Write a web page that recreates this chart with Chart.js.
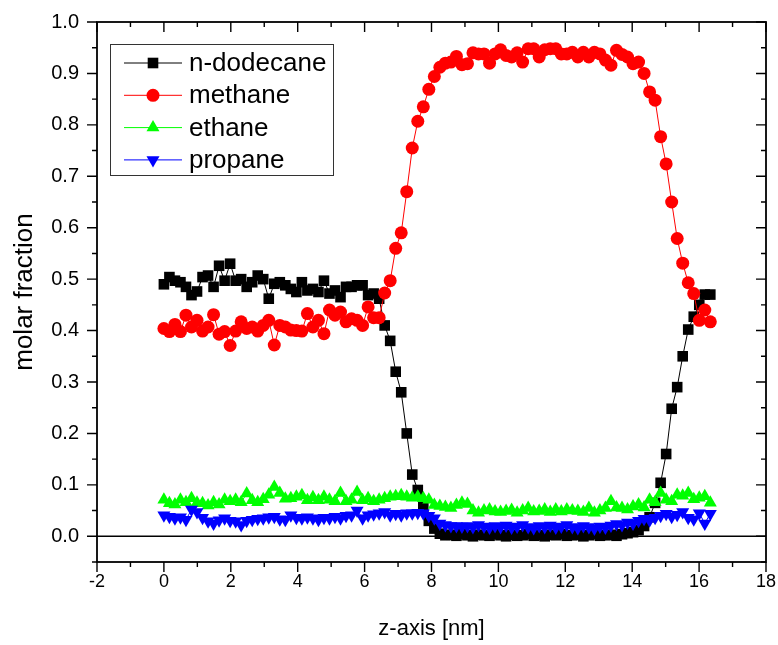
<!DOCTYPE html>
<html>
<head>
<meta charset="utf-8">
<script src="https://cdn.jsdelivr.net/npm/chart.js@4"></script>
<style>
  html, body { margin: 0; padding: 0; background: #fff; }
  #wrap { width: 778px; height: 645px; }
</style>
</head>
<body>
<div id="wrap"><canvas id="profileChart"></canvas></div>
<script>
// z position of each bin [nm]
const zPos = [
  0, 0.165, 0.33, 0.495, 0.66, 0.825, 0.99, 1.155, 1.32, 1.485,
  1.65, 1.815, 1.98, 2.145, 2.31, 2.475, 2.64, 2.805, 2.97, 3.135,
  3.3, 3.465, 3.63, 3.795, 3.96, 4.125, 4.29, 4.455, 4.62, 4.785,
  4.95, 5.115, 5.28, 5.445, 5.61, 5.775, 5.94, 6.105, 6.27, 6.435,
  6.6, 6.765, 6.93, 7.095, 7.26, 7.425, 7.59, 7.755, 7.92, 8.085,
  8.25, 8.415, 8.58, 8.745, 8.91, 9.075, 9.24, 9.405, 9.57, 9.735,
  9.9, 10.065, 10.23, 10.395, 10.56, 10.725, 10.89, 11.055, 11.22, 11.385,
  11.55, 11.715, 11.88, 12.045, 12.21, 12.375, 12.54, 12.705, 12.87, 13.035,
  13.2, 13.365, 13.53, 13.695, 13.86, 14.025, 14.19, 14.355, 14.52, 14.685,
  14.85, 15.015, 15.18, 15.345, 15.51, 15.675, 15.84, 16.005, 16.17, 16.335
];

const dodecane = [
  0.49, 0.504, 0.497, 0.494, 0.485, 0.469, 0.476, 0.504, 0.507, 0.485,
  0.526, 0.497, 0.53, 0.497, 0.5, 0.485, 0.494, 0.507, 0.5, 0.462,
  0.491, 0.494, 0.488, 0.481, 0.475, 0.494, 0.478, 0.481, 0.475, 0.497,
  0.472, 0.478, 0.465, 0.485, 0.485, 0.488, 0.488, 0.469, 0.472, 0.462,
  0.41, 0.38, 0.32, 0.28, 0.2, 0.12, 0.09, 0.057, 0.03, 0.015,
  0.005, 0.002, 0.003, 0.001, 0.004, 0.002, 0.0, 0.003, 0.002, 0.001,
  0.004, 0.002, 0.0, 0.003, 0.001, 0.002, 0.004, 0.001, 0.002, 0.0,
  0.003, 0.002, 0.004, 0.001, 0.002, 0.003, 0.0, 0.002, 0.004, 0.001,
  0.002, 0.003, 0.001, 0.004, 0.006, 0.008, 0.012, 0.02, 0.037, 0.065,
  0.104, 0.16, 0.248, 0.29, 0.35, 0.402, 0.427, 0.45, 0.47, 0.47
];

const methane = [
  0.404, 0.398, 0.412, 0.398, 0.43, 0.407, 0.42, 0.399, 0.407, 0.431,
  0.393, 0.398, 0.371, 0.399, 0.417, 0.404, 0.407, 0.399, 0.41, 0.42,
  0.372, 0.41, 0.407, 0.401, 0.4, 0.399, 0.433, 0.407, 0.42, 0.394,
  0.44, 0.43, 0.436, 0.417, 0.423, 0.42, 0.41, 0.446, 0.425, 0.425,
  0.473, 0.497, 0.56, 0.59, 0.67, 0.755, 0.807, 0.835, 0.869, 0.894,
  0.912, 0.92, 0.922, 0.933, 0.917, 0.919, 0.94, 0.938, 0.938, 0.92,
  0.938, 0.946, 0.935, 0.932, 0.94, 0.922, 0.948, 0.948, 0.932, 0.946,
  0.948, 0.948, 0.938, 0.938, 0.941, 0.932, 0.941, 0.932, 0.941, 0.938,
  0.926, 0.916, 0.945, 0.937, 0.932, 0.919, 0.922, 0.9, 0.864, 0.848,
  0.777, 0.724, 0.65, 0.579, 0.531, 0.493, 0.472, 0.42, 0.44, 0.417
];

const ethane = [
  0.071, 0.064, 0.062, 0.071, 0.066, 0.074, 0.065, 0.064, 0.06, 0.066,
  0.062, 0.071, 0.068, 0.071, 0.066, 0.083, 0.07, 0.066, 0.072, 0.081,
  0.096, 0.084, 0.073, 0.074, 0.077, 0.08, 0.07, 0.076, 0.07, 0.077,
  0.071, 0.068, 0.084, 0.068, 0.071, 0.086, 0.07, 0.074, 0.068, 0.071,
  0.074, 0.077, 0.078, 0.08, 0.077, 0.075, 0.077, 0.074, 0.071, 0.061,
  0.059, 0.057, 0.055, 0.061, 0.065, 0.063, 0.05, 0.046, 0.05, 0.052,
  0.048, 0.047, 0.049, 0.051, 0.046, 0.05, 0.055, 0.048, 0.049, 0.052,
  0.047, 0.052, 0.048, 0.052, 0.05, 0.049, 0.047, 0.055, 0.046, 0.05,
  0.055, 0.068, 0.056, 0.055, 0.052, 0.058, 0.062, 0.056, 0.071, 0.066,
  0.084, 0.071, 0.068, 0.081, 0.079, 0.084, 0.072, 0.075, 0.078, 0.065
];

const propane = [
  0.041, 0.038, 0.035, 0.037, 0.032, 0.052, 0.047, 0.036, 0.029, 0.025,
  0.031, 0.035, 0.03, 0.029, 0.022, 0.03, 0.032, 0.034, 0.035, 0.037,
  0.038, 0.033, 0.032, 0.041, 0.036, 0.035, 0.037, 0.035, 0.032, 0.036,
  0.035, 0.038, 0.035, 0.04, 0.041, 0.05, 0.035, 0.041, 0.043, 0.045,
  0.047, 0.041, 0.044, 0.041, 0.045, 0.045, 0.046, 0.045, 0.04, 0.035,
  0.025, 0.022, 0.02, 0.02, 0.019, 0.02, 0.018, 0.022, 0.019, 0.017,
  0.02, 0.018, 0.021, 0.017, 0.019, 0.022, 0.018, 0.016, 0.02, 0.018,
  0.021, 0.017, 0.019, 0.022, 0.018, 0.016, 0.02, 0.018, 0.015, 0.019,
  0.017, 0.021, 0.024, 0.022, 0.027, 0.025, 0.03, 0.034, 0.031, 0.036,
  0.04, 0.044, 0.038, 0.042, 0.047, 0.036, 0.033, 0.045, 0.025, 0.044
];

const seriesNames = ['n-dodecane', 'methane', 'ethane', 'propane'];

const xTicks = [-2, 0, 2, 4, 6, 8, 10, 12, 14, 16, 18];
const xMinor = [-1, 1, 3, 5, 7, 9, 11, 13, 15, 17];
const yTicks = [0, 0.1, 0.2, 0.3, 0.4, 0.5, 0.6, 0.7, 0.8, 0.9, 1.0];
const yMinor = [-0.05, 0.05, 0.15, 0.25, 0.35, 0.45, 0.55, 0.65, 0.75, 0.85, 0.95];

const regular = '"Liberation Sans", Arial, sans-serif';

function pts(arr) {
  return zPos.map((z, i) => ({ x: z, y: arr[i] }));
}

function noPad(scale) {
  scale.paddingLeft = 0;
  scale.paddingRight = 0;
  scale.paddingTop = 0;
  scale.paddingBottom = 0;
}

// frame with mirrored ticks + zero line
const framePlugin = {
  id: 'frame',
  beforeDatasetsDraw(chart) {
    const { ctx, chartArea: a, scales: { y } } = chart;
    ctx.save();
    ctx.strokeStyle = '#000';
    ctx.lineWidth = 1.5;
    const y0 = y.getPixelForValue(0);
    ctx.beginPath();
    ctx.moveTo(a.left, y0);
    ctx.lineTo(a.right, y0);
    ctx.stroke();
    ctx.restore();
  },
  afterDraw(chart) {
    const { ctx, chartArea: a, scales: { x, y } } = chart;
    ctx.save();
    ctx.strokeStyle = '#000';
    ctx.lineWidth = 1.8;
    ctx.strokeRect(a.left, a.top, a.right - a.left, a.bottom - a.top);
    ctx.lineWidth = 1.4;
    ctx.beginPath();
    const major = 10, minor = 5;
    xTicks.forEach(v => {
      const px = x.getPixelForValue(v);
      ctx.moveTo(px, a.bottom); ctx.lineTo(px, a.bottom + major);
      ctx.moveTo(px, a.top); ctx.lineTo(px, a.top + major);
    });
    xMinor.forEach(v => {
      const px = x.getPixelForValue(v);
      ctx.moveTo(px, a.bottom); ctx.lineTo(px, a.bottom + minor);
      ctx.moveTo(px, a.top); ctx.lineTo(px, a.top + minor);
    });
    yTicks.forEach(v => {
      const py = y.getPixelForValue(v);
      ctx.moveTo(a.left, py); ctx.lineTo(a.left - major, py);
      ctx.moveTo(a.right, py); ctx.lineTo(a.right - major, py);
    });
    yMinor.forEach(v => {
      const py = y.getPixelForValue(v);
      ctx.moveTo(a.left, py); ctx.lineTo(a.left - minor, py);
      ctx.moveTo(a.right, py); ctx.lineTo(a.right - minor, py);
    });
    ctx.stroke();

    // legend box inside plot
    const bx = a.left + 13, by = a.top + 22, bw = 223, bh = 131;
    ctx.lineWidth = 1;
    ctx.strokeStyle = '#333';
    ctx.strokeRect(bx + 0.5, by + 0.5, bw, bh);
    ctx.font = '26px ' + regular;
    ctx.textBaseline = 'middle';
    chart.data.datasets.forEach((ds, i) => {
      const ry = by + 19 + i * 32.3;
      ctx.strokeStyle = ds.borderColor;
      ctx.lineWidth = 1;
      ctx.beginPath();
      ctx.moveTo(bx + 14, ry); ctx.lineTo(bx + 72, ry);
      ctx.stroke();
      ctx.fillStyle = ds.pointBackgroundColor;
      Chart.helpers.drawPoint(ctx, {
        pointStyle: ds.pointStyle, radius: ds.pointRadius,
        rotation: ds.pointRotation || 0, borderWidth: 0
      }, bx + 43, ry);
      ctx.fillStyle = '#000';
      ctx.fillText(ds.label, bx + 79, ry + 1);
    });
    ctx.restore();
  }
};

const ctx = document.getElementById('profileChart').getContext('2d');
new Chart(ctx, {
  type: 'line',
  data: {
    datasets: [
      { label: seriesNames[0], data: pts(dodecane), borderColor: '#000000', pointBackgroundColor: '#000000',
        pointStyle: 'rect', pointRadius: 7.5, order: 4 },
      { label: seriesNames[1], data: pts(methane), borderColor: '#ff0000', pointBackgroundColor: '#ff0000',
        pointStyle: 'circle', pointRadius: 6.5, order: 3 },
      { label: seriesNames[2], data: pts(ethane), borderColor: '#00ff00', pointBackgroundColor: '#00ff00',
        pointStyle: 'triangle', pointRadius: 7.5, order: 2 },
      { label: seriesNames[3], data: pts(propane), borderColor: '#0000ff', pointBackgroundColor: '#0000ff',
        pointStyle: 'triangle', pointRotation: 180, pointRadius: 7.5, order: 1 }
    ].map(ds => Object.assign({
      borderWidth: 1, pointBorderWidth: 0, pointBorderColor: ds.borderColor,
      tension: 0, fill: false
    }, ds))
  },
  options: {
    responsive: true,
    maintainAspectRatio: false,
    animation: false,
    events: [],
    layout: { padding: { left: 0, top: 22, right: 12, bottom: 0 } },
    scales: {
      x: {
        type: 'linear',
        min: -2,
        max: 18,
        grid: { display: false, drawTicks: false },
        border: { display: false },
        afterBuildTicks: (scale) => { scale.ticks = xTicks.map(v => ({ value: v })); },
        afterFit: (scale) => { scale.height = 83; noPad(scale); },
        ticks: {
          padding: 9,
          color: '#000',
          maxRotation: 0,
          autoSkip: false,
          font: { family: regular, size: 18 },
          callback: (v) => String(v)
        },
        title: {
          display: true,
          text: 'z-axis [nm]',
          color: '#000',
          font: { family: regular, size: 22 },
          padding: { top: 0, bottom: 3 }
        }
      },
      y: {
        type: 'linear',
        min: -0.05,
        max: 1.0,
        grid: { display: false, drawTicks: false },
        border: { display: false },
        afterBuildTicks: (scale) => { scale.ticks = yTicks.map(v => ({ value: v })); },
        afterFit: (scale) => { scale.width = 97; noPad(scale); },
        ticks: {
          padding: 18,
          color: '#000',
          autoSkip: false,
          font: { family: regular, size: 20 },
          callback: (v) => v.toFixed(1)
        },
        title: {
          display: true,
          text: 'molar fraction',
          color: '#000',
          font: { family: regular, size: 26 },
          padding: { top: 9, bottom: 0 }
        }
      }
    },
    plugins: {
      legend: { display: false },
      tooltip: { enabled: false }
    }
  },
  plugins: [framePlugin]
});
</script>
</body>
</html>
